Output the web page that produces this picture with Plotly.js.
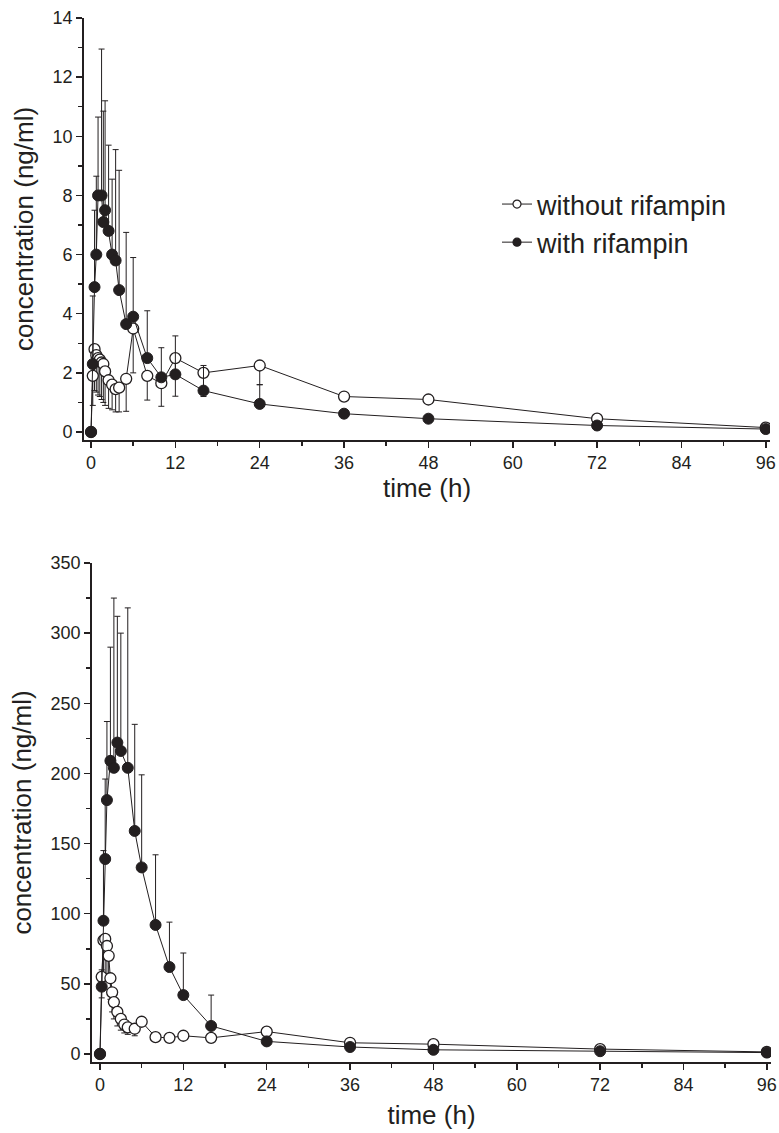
<!DOCTYPE html>
<html>
<head>
<meta charset="utf-8">
<script src="https://cdn.plot.ly/plotly-3.0.1.min.js"></script>
<style>html,body{margin:0;padding:0;background:#fff;}#chart{width:779px;height:1133px;}</style>
</head>
<body>
<div id="chart"></div>
<script>
// Sampling times (h)
var times = [0,0.25,0.5,0.75,1,1.25,1.5,1.75,2,2.5,3,3.5,4,5,6,8,10,12,16,24,36,48,72,96];
var seriesNames = ["without rifampin", "with rifampin"];

// Top panel (ng/ml)
var topWithout    = [0,1.9,2.8,2.6,2.5,2.45,2.35,2.3,2.05,1.75,1.6,1.45,1.5,1.8,3.5,1.9,1.65,2.5,2.0,2.25,1.2,1.1,0.45,0.15];
var topWithoutErr = [0,1.0,1.4,1.25,1.25,1.25,1.25,1.3,1.15,0.95,0.85,0.77,0.82,1.1,1.5,0.82,0.78,1.29,0.8,0.65,0,0,0,0];
var topWith       = [0,2.3,4.9,6.0,8.0,null,8.0,7.1,7.5,6.8,6.0,5.8,4.8,3.65,3.9,2.5,1.85,1.95,1.4,0.95,0.62,0.45,0.22,0.1];
var topWithErr    = [0,2.3,2.6,2.65,2.65,null,4.95,3.75,3.7,2.9,2.55,3.75,4.05,3.1,2.0,1.6,1.0,1.3,0.85,0.65,0,0,0,0];

// Bottom panel (ng/ml)
var botWithout    = [0,55,81,82,77,70,54,44,37,30,25,21,19,18,23,12,11.5,13,11.5,16,8,7,3.5,1.5];
var botWithoutErr = [0,15,28,25,22,18,15,14,12,10,8,6,5,5,0,0,0,0,0,0,0,0,0,0];
var botWith       = [0,48,95,139,181,null,209,null,204,222,216,null,204,159,133,92,62,42,20,9,5,3,2,1];
var botWithErr    = [0,12,50,57,56,null,81,null,121,90,84,null,114,76,66,50,32,30,22,0,0,0,0,0];

var zeros = times.map(function(){return 0;});
var ink = '#231f20';
var fontFam = '"Liberation Sans", Arial, sans-serif';

function openTrace(y, err, xa, ya){
  return {x: times, y: y, type:'scatter', mode:'lines+markers', name: seriesNames[0],
    xaxis: xa, yaxis: ya, showlegend: false, connectgaps: true,
    line:{color:ink, width:1},
    marker:{symbol:'circle', size:11, color:'#ffffff', line:{color:ink, width:1.3}},
    error_y:{type:'data', symmetric:false, array: zeros, arrayminus: err, color:ink, thickness:1, width:3}};
}
function filledTrace(y, err, xa, ya){
  return {x: times, y: y, type:'scatter', mode:'lines+markers', name: seriesNames[1],
    xaxis: xa, yaxis: ya, showlegend: false, connectgaps: true,
    line:{color:ink, width:1},
    marker:{symbol:'circle', size:11, color:ink, line:{color:ink, width:1}},
    error_y:{type:'data', symmetric:false, array: err, arrayminus: zeros, color:ink, thickness:1, width:3}};
}
function legendTrace(i, fill){
  return {x:[null], y:[null], type:'scatter', mode:'lines+markers', name: seriesNames[i],
    xaxis:'x', yaxis:'y', showlegend:true, line:{color:ink, width:1},
    marker:{symbol:'circle', size:8, color:fill, line:{color:ink, width:1.2}}};
}

var data = [
  openTrace(topWithout, topWithoutErr, 'x', 'y'),
  filledTrace(topWith, topWithErr, 'x', 'y'),
  openTrace(botWithout, botWithoutErr, 'x2', 'y2'),
  filledTrace(botWith, botWithErr, 'x2', 'y2'),
  legendTrace(0, '#ffffff'),
  legendTrace(1, ink)
];

var tickFont = {family:fontFam, size:18, color:ink};
var titleFont = {family:fontFam, size:26, color:ink};
function axisBase(){
  return {showline:true, linecolor:ink, linewidth:1.8, ticks:'outside', ticklen:6, tickwidth:1.5,
    tickcolor:ink, showgrid:false, zeroline:false, mirror:false, tickfont:tickFont};
}
function minorOf(vals){ return {tickvals:vals, ticks:'outside', ticklen:4, tickwidth:1.5, tickcolor:ink}; }
var W = 779, H = 1133;
var xTicks = [0,12,24,36,48,60,72,84,96], xMinor = [6,18,30,42,54,66,78,90];

var xa = axisBase(); xa.domain=[84/W, 770/W]; xa.range=[-1.0, 96.6]; xa.tickmode='array';
xa.tickvals=xTicks; xa.minor=minorOf(xMinor);
xa.title={text:'time (h)', font:titleFont, standoff:6}; xa.anchor='y';
var ya = axisBase(); ya.domain=[(H-440)/H, (H-18)/H]; ya.range=[-0.27, 14]; ya.tickmode='array';
ya.tickvals=[0,2,4,6,8,10,12,14]; ya.minor=minorOf([1,3,5,7,9,11,13]);
ya.title={text:'concentration (ng/ml)', font:titleFont, standoff:11}; ya.anchor='x';

var xa2 = axisBase(); xa2.domain=[92/W, 771/W]; xa2.range=[-1.15, 96.6]; xa2.tickmode='array';
xa2.tickvals=xTicks; xa2.minor=minorOf(xMinor);
xa2.title={text:'time (h)', font:titleFont, standoff:11}; xa2.anchor='y2';
var ya2 = axisBase(); ya2.domain=[(H-1062)/H, (H-563)/H]; ya2.range=[-5.7, 350]; ya2.tickmode='array';
ya2.tickvals=[0,50,100,150,200,250,300,350]; ya2.minor=minorOf([25,75,125,175,225,275,325]);
ya2.title={text:'concentration (ng/ml)', font:titleFont, standoff:11}; ya2.anchor='x2';

var layout = {
  width: W, height: H, margin:{l:0, r:0, t:0, b:0}, paper_bgcolor:'#fff', plot_bgcolor:'#fff',
  font:{family:fontFam, color:ink},
  xaxis: xa, yaxis: ya, xaxis2: xa2, yaxis2: ya2,
  showlegend: true,
  legend:{x:497/W, y:(H-180)/H, xanchor:'left', yanchor:'top', bgcolor:'rgba(0,0,0,0)',
    font:{family:fontFam, size:27, color:ink}, tracegroupgap:0}
};
Plotly.newPlot('chart', data, layout, {displayModeBar:false, staticPlot:true});
</script>
</body>
</html>
